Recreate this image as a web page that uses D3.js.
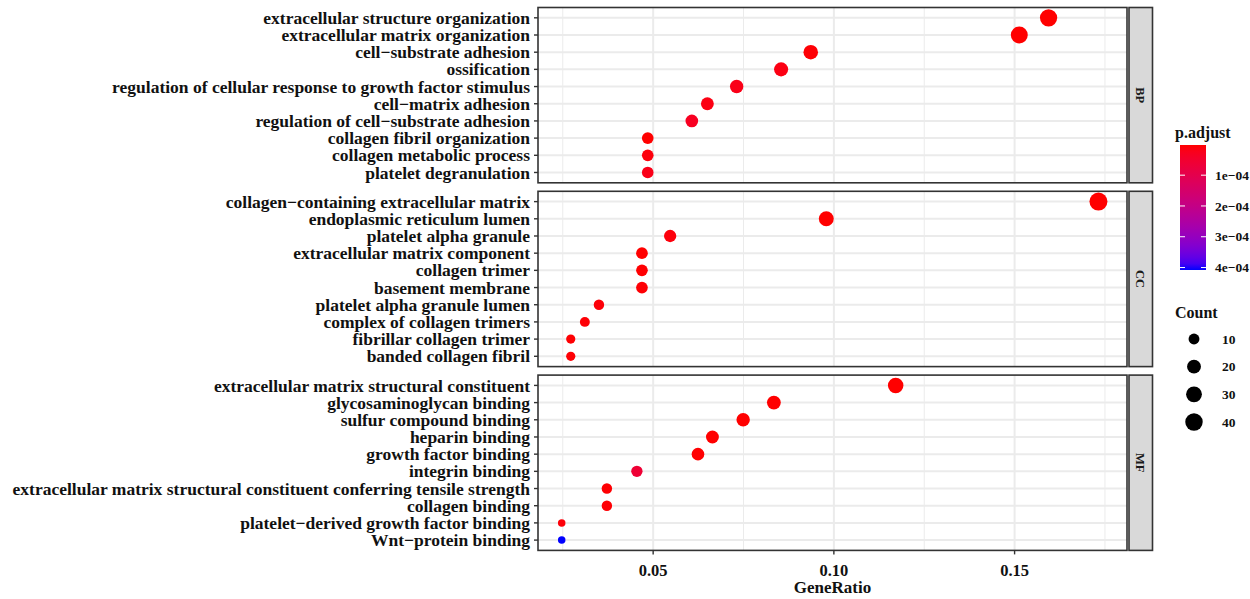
<!DOCTYPE html>
<html>
<head>
<script src="https://d3js.org/d3.v7.min.js"></script>
<style>
  body { margin: 0; background: #fff; }
  text { font-family: "Liberation Serif", "Times New Roman", serif; font-weight: bold; }
</style>
</head>
<body>
<div id="chart"></div>
<script>
// ontology groups (facets)
var facets = ["BP", "CC", "MF"];

var bpTerms = ["extracellular structure organization", "extracellular matrix organization",
  "cell\u2212substrate adhesion", "ossification", "regulation of cellular response to growth factor stimulus",
  "cell\u2212matrix adhesion", "regulation of cell\u2212substrate adhesion", "collagen fibril organization",
  "collagen metabolic process", "platelet degranulation"];
var bpRatio = [0.1594, 0.1513, 0.0936, 0.0854, 0.0731, 0.0650, 0.0607, 0.0485, 0.0485, 0.0485];
var bpCount = [39, 37, 23, 21, 18, 16, 15, 12, 12, 12];
var bpPadj = [1e-9, 1e-9, 5e-6, 1.5e-5, 2e-5, 1.5e-5, 3e-5, 2e-6, 1e-5, 2e-5];

var ccTerms = ["collagen\u2212containing extracellular matrix", "endoplasmic reticulum lumen",
  "platelet alpha granule", "extracellular matrix component", "collagen trimer", "basement membrane",
  "platelet alpha granule lumen", "complex of collagen trimers", "fibrillar collagen trimer",
  "banded collagen fibril"];
var ccRatio = [0.1732, 0.0979, 0.0547, 0.0469, 0.0469, 0.0469, 0.0350, 0.0311, 0.0272, 0.0272];
var ccCount = [44, 25, 14, 12, 12, 12, 9, 8, 7, 7];
var ccPadj = [1e-12, 1e-7, 1e-5, 2e-6, 3e-6, 5e-6, 8e-6, 6e-6, 4e-6, 5e-6];

var mfTerms = ["extracellular matrix structural constituent", "glycosaminoglycan binding",
  "sulfur compound binding", "heparin binding", "growth factor binding", "integrin binding",
  "extracellular matrix structural constituent conferring tensile strength", "collagen binding",
  "platelet\u2212derived growth factor binding", "Wnt\u2212protein binding"];
var mfRatio = [0.1171, 0.0834, 0.0749, 0.0664, 0.0624, 0.0455, 0.0372, 0.0372, 0.0247, 0.0247];
var mfCount = [28, 20, 18, 16, 15, 11, 9, 9, 6, 6];
var mfPadj = [1e-9, 1e-7, 1e-7, 2e-6, 3e-6, 6e-5, 4e-6, 5e-6, 8e-6, 4.08e-4];

var xTicks = [0.05, 0.10, 0.15];
var xMinor = [0.025, 0.075, 0.125, 0.175];
var padjTicks = [1e-4, 2e-4, 3e-4, 4e-4];
var countTicks = [10, 20, 30, 40];

var groups = [
  {name: "BP", terms: bpTerms, ratio: bpRatio, count: bpCount, padj: bpPadj},
  {name: "CC", terms: ccTerms, ratio: ccRatio, count: ccCount, padj: ccPadj},
  {name: "MF", terms: mfTerms, ratio: mfRatio, count: mfCount, padj: mfPadj}
];

var W = 1250, H = 599;
var left = 538, right = 1127, topY = 7.5, panelH = 175.3, gap = 8.5;

var svg = d3.select("#chart").append("svg")
    .attr("width", W).attr("height", H);
svg.append("rect").attr("width", W).attr("height", H).attr("fill", "#fff");

var x = d3.scaleLinear().domain([0.01814, 0.1811]).range([left, right]);

var pMin = 2e-6, pMax = 4.08e-4;
var color = d3.scaleLinear().domain([pMin, pMax]).range(["red", "blue"])
    .interpolate(d3.interpolateLab).clamp(true);

var cMin = 6, cMax = 44;
var diam = d3.scaleLinear().domain([0, 1]).range([7.5, 18]);
function radius(c) { return diam(Math.sqrt(Math.max(0, c - cMin) / (cMax - cMin))) / 2; }

groups.forEach(function(gr, gi) {
  var y0 = topY + gi * (panelH + gap);
  var y = d3.scalePoint().domain(gr.terms).range([y0, y0 + panelH]).padding(0.6);
  var g = svg.append("g");

  // grid
  g.selectAll(".minor").data(xMinor).enter().append("line")
      .attr("x1", d => x(d)).attr("x2", d => x(d))
      .attr("y1", y0).attr("y2", y0 + panelH)
      .attr("stroke", "#ebebeb").attr("stroke-width", 1);
  g.selectAll(".major").data(xTicks).enter().append("line")
      .attr("x1", d => x(d)).attr("x2", d => x(d))
      .attr("y1", y0).attr("y2", y0 + panelH)
      .attr("stroke", "#ebebeb").attr("stroke-width", 2);
  g.selectAll(".hgrid").data(gr.terms).enter().append("line")
      .attr("x1", left).attr("x2", right)
      .attr("y1", d => y(d)).attr("y2", d => y(d))
      .attr("stroke", "#ebebeb").attr("stroke-width", 2);

  // points
  var rows = gr.terms.map(function(t, i) {
    return {term: t, ratio: gr.ratio[i], count: gr.count[i], padj: gr.padj[i]};
  });
  g.selectAll("circle").data(rows).enter().append("circle")
      .attr("cx", d => x(d.ratio))
      .attr("cy", d => y(d.term))
      .attr("r", d => radius(d.count))
      .attr("fill", d => color(d.padj));

  // panel border
  g.append("rect").attr("x", left).attr("y", y0)
      .attr("width", right - left).attr("height", panelH)
      .attr("fill", "none").attr("stroke", "#333").attr("stroke-width", 1.6);

  // y axis ticks + labels
  g.selectAll(".yt").data(gr.terms).enter().append("line")
      .attr("x1", left - 4).attr("x2", left)
      .attr("y1", d => y(d)).attr("y2", d => y(d))
      .attr("stroke", "#333").attr("stroke-width", 1.4);
  g.selectAll(".yl").data(gr.terms).enter().append("text")
      .attr("x", left - 8).attr("y", d => y(d))
      .attr("dy", "0.35em").attr("text-anchor", "end")
      .attr("font-size", 17.5).attr("fill", "#111")
      .text(d => d);

  // strip
  g.append("rect").attr("x", right + 2).attr("y", y0)
      .attr("width", 23.5).attr("height", panelH)
      .attr("fill", "#d9d9d9").attr("stroke", "#333").attr("stroke-width", 1.6);
  g.append("text")
      .attr("transform", "translate(" + (right + 13.75) + "," + (y0 + panelH / 2) + ") rotate(90)")
      .attr("text-anchor", "middle").attr("dy", "0.35em")
      .attr("font-size", 12.5).attr("fill", "#1a1a1a")
      .text(gr.name);
});

// x axis
var axisY = topY + 3 * panelH + 2 * gap;
svg.selectAll(".xt").data(xTicks).enter().append("line")
    .attr("x1", d => x(d)).attr("x2", d => x(d))
    .attr("y1", axisY).attr("y2", axisY + 4)
    .attr("stroke", "#333").attr("stroke-width", 1.4);
svg.selectAll(".xl").data(xTicks).enter().append("text")
    .attr("x", d => x(d)).attr("y", axisY + 20)
    .attr("dy", "0.35em")
    .attr("text-anchor", "middle").attr("font-size", 16.5).attr("fill", "#111")
    .text(d => d3.format(".2f")(d));
svg.append("text")
    .attr("x", (left + right) / 2).attr("y", axisY + 37).attr("dy", "0.35em")
    .attr("text-anchor", "middle").attr("font-size", 17).attr("fill", "#111")
    .text("GeneRatio");

// colour legend
var lg = svg.append("g");
lg.append("text").attr("x", 1175).attr("y", 132).attr("dy", "0.35em")
    .attr("font-size", 16).attr("fill", "#111").text("p.adjust");

var grad = svg.append("defs").append("linearGradient")
    .attr("id", "pgrad").attr("x1", 0).attr("y1", 0).attr("x2", 0).attr("y2", 1);
d3.range(0, 1.0001, 0.05).forEach(function(t) {
  grad.append("stop").attr("offset", t)
      .attr("stop-color", color(pMin + t * (pMax - pMin)));
});
var barTop = 145, barBot = 270, barX = 1180, barW = 26;
var yc = d3.scaleLinear().domain([pMin, pMax]).range([barTop, barBot]);
lg.append("rect").attr("x", barX).attr("y", barTop)
    .attr("width", barW).attr("height", barBot - barTop)
    .attr("fill", "url(#pgrad)");
padjTicks.forEach(function(p) {
  lg.append("line").attr("x1", barX).attr("x2", barX + 5)
      .attr("y1", yc(p)).attr("y2", yc(p)).attr("stroke", "#fff").attr("stroke-width", 1);
  lg.append("line").attr("x1", barX + barW - 5).attr("x2", barX + barW)
      .attr("y1", yc(p)).attr("y2", yc(p)).attr("stroke", "#fff").attr("stroke-width", 1);
  lg.append("text").attr("x", 1215).attr("y", yc(p)).attr("dy", "0.35em")
      .attr("font-size", 13.5).attr("fill", "#111")
      .text(d3.format(".0e")(p).replace("e-", "e\u22120"));
});

// size legend
lg.append("text").attr("x", 1175).attr("y", 312).attr("dy", "0.35em")
    .attr("font-size", 16).attr("fill", "#111").text("Count");
var ys = d3.scalePoint().domain(countTicks).range([339, 422]);
countTicks.forEach(function(c) {
  lg.append("circle").attr("cx", 1194).attr("cy", ys(c))
      .attr("r", radius(c)).attr("fill", "#000");
  lg.append("text").attr("x", 1222).attr("y", ys(c)).attr("dy", "0.35em")
      .attr("font-size", 13.5).attr("fill", "#111").text(c);
});
</script>
</body>
</html>
